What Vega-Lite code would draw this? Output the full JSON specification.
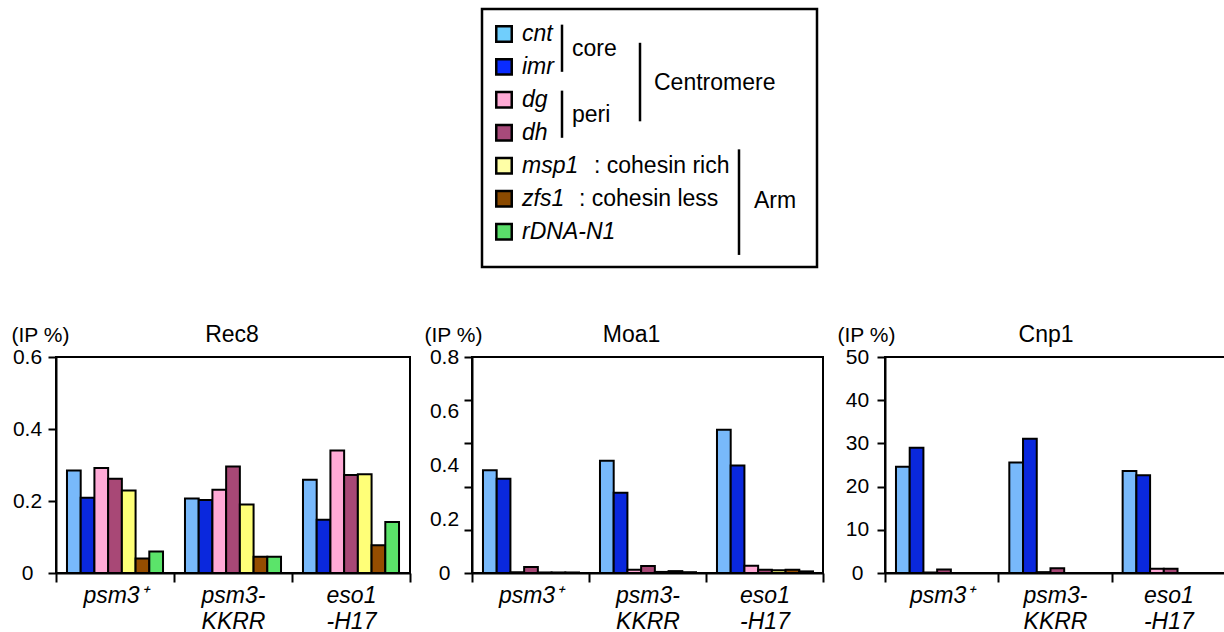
{
  "$schema": "https://vega.github.io/schema/vega-lite/v6.json",
  "padding": {"left": 10, "top": 7, "right": 0, "bottom": 0},
  "background": "white",
  "config": {
    "font": "Liberation Sans",
    "view": {"stroke": "black", "strokeWidth": 2},
    "axis": {"domainColor": "black", "tickColor": "black", "labelColor": "black", "titleColor": "black", "labelFont": "Liberation Sans", "titleFont": "Liberation Sans", "grid": false},
    "title": {"font": "Liberation Sans", "color": "black", "fontWeight": "normal"}
  },
  "resolve": {"scale": {"color": "independent"}},
  "datasets": {
    "genes": [
      {"gene": "cnt"}, {"gene": "imr"}, {"gene": "dg"}, {"gene": "dh"},
      {"gene": "msp1", "note": ": cohesin rich"}, {"gene": "zfs1", "note": ": cohesin less"}, {"gene": "rDNA-N1"}
    ],
    "groups": [
      {"label": "core", "from": "cnt", "to": "imr", "anchor": "cnt", "level": "sub"},
      {"label": "peri", "from": "dg", "to": "dh", "anchor": "dg", "level": "sub"},
      {"label": "Centromere", "from": "cnt", "to": "dh", "anchor": "imr", "level": "region"},
      {"label": "Arm", "from": "msp1", "to": "rDNA-N1", "anchor": "zfs1", "level": "arm"}
    ],
    "bars": [
      {"protein": "Rec8", "strain": "psm3+", "gene": "cnt", "value": 0.285},
      {"protein": "Rec8", "strain": "psm3+", "gene": "imr", "value": 0.209},
      {"protein": "Rec8", "strain": "psm3+", "gene": "dg", "value": 0.292},
      {"protein": "Rec8", "strain": "psm3+", "gene": "dh", "value": 0.262},
      {"protein": "Rec8", "strain": "psm3+", "gene": "msp1", "value": 0.229},
      {"protein": "Rec8", "strain": "psm3+", "gene": "zfs1", "value": 0.040},
      {"protein": "Rec8", "strain": "psm3+", "gene": "rDNA-N1", "value": 0.060},
      {"protein": "Rec8", "strain": "psm3-KKRR", "gene": "cnt", "value": 0.207},
      {"protein": "Rec8", "strain": "psm3-KKRR", "gene": "imr", "value": 0.203},
      {"protein": "Rec8", "strain": "psm3-KKRR", "gene": "dg", "value": 0.231},
      {"protein": "Rec8", "strain": "psm3-KKRR", "gene": "dh", "value": 0.296},
      {"protein": "Rec8", "strain": "psm3-KKRR", "gene": "msp1", "value": 0.190},
      {"protein": "Rec8", "strain": "psm3-KKRR", "gene": "zfs1", "value": 0.045},
      {"protein": "Rec8", "strain": "psm3-KKRR", "gene": "rDNA-N1", "value": 0.045},
      {"protein": "Rec8", "strain": "eso1-H17", "gene": "cnt", "value": 0.259},
      {"protein": "Rec8", "strain": "eso1-H17", "gene": "imr", "value": 0.148},
      {"protein": "Rec8", "strain": "eso1-H17", "gene": "dg", "value": 0.340},
      {"protein": "Rec8", "strain": "eso1-H17", "gene": "dh", "value": 0.272},
      {"protein": "Rec8", "strain": "eso1-H17", "gene": "msp1", "value": 0.274},
      {"protein": "Rec8", "strain": "eso1-H17", "gene": "zfs1", "value": 0.077},
      {"protein": "Rec8", "strain": "eso1-H17", "gene": "rDNA-N1", "value": 0.142},
      {"protein": "Moa1", "strain": "psm3+", "gene": "cnt", "value": 0.381},
      {"protein": "Moa1", "strain": "psm3+", "gene": "imr", "value": 0.349},
      {"protein": "Moa1", "strain": "psm3+", "gene": "dg", "value": 0.003},
      {"protein": "Moa1", "strain": "psm3+", "gene": "dh", "value": 0.022},
      {"protein": "Moa1", "strain": "psm3+", "gene": "msp1", "value": 0.002},
      {"protein": "Moa1", "strain": "psm3+", "gene": "zfs1", "value": 0.002},
      {"protein": "Moa1", "strain": "psm3+", "gene": "rDNA-N1", "value": 0.002},
      {"protein": "Moa1", "strain": "psm3-KKRR", "gene": "cnt", "value": 0.416},
      {"protein": "Moa1", "strain": "psm3-KKRR", "gene": "imr", "value": 0.297},
      {"protein": "Moa1", "strain": "psm3-KKRR", "gene": "dg", "value": 0.012},
      {"protein": "Moa1", "strain": "psm3-KKRR", "gene": "dh", "value": 0.026},
      {"protein": "Moa1", "strain": "psm3-KKRR", "gene": "msp1", "value": 0.004},
      {"protein": "Moa1", "strain": "psm3-KKRR", "gene": "zfs1", "value": 0.007},
      {"protein": "Moa1", "strain": "psm3-KKRR", "gene": "rDNA-N1", "value": 0.003},
      {"protein": "Moa1", "strain": "eso1-H17", "gene": "cnt", "value": 0.531},
      {"protein": "Moa1", "strain": "eso1-H17", "gene": "imr", "value": 0.398},
      {"protein": "Moa1", "strain": "eso1-H17", "gene": "dg", "value": 0.027},
      {"protein": "Moa1", "strain": "eso1-H17", "gene": "dh", "value": 0.012},
      {"protein": "Moa1", "strain": "eso1-H17", "gene": "msp1", "value": 0.010},
      {"protein": "Moa1", "strain": "eso1-H17", "gene": "zfs1", "value": 0.012},
      {"protein": "Moa1", "strain": "eso1-H17", "gene": "rDNA-N1", "value": 0.006},
      {"protein": "Cnp1", "strain": "psm3+", "gene": "cnt", "value": 24.6},
      {"protein": "Cnp1", "strain": "psm3+", "gene": "imr", "value": 29.0},
      {"protein": "Cnp1", "strain": "psm3+", "gene": "dg", "value": 0.1},
      {"protein": "Cnp1", "strain": "psm3+", "gene": "dh", "value": 0.8},
      {"protein": "Cnp1", "strain": "psm3+", "gene": "msp1", "value": 0},
      {"protein": "Cnp1", "strain": "psm3+", "gene": "zfs1", "value": 0},
      {"protein": "Cnp1", "strain": "psm3+", "gene": "rDNA-N1", "value": 0},
      {"protein": "Cnp1", "strain": "psm3-KKRR", "gene": "cnt", "value": 25.6},
      {"protein": "Cnp1", "strain": "psm3-KKRR", "gene": "imr", "value": 31.1},
      {"protein": "Cnp1", "strain": "psm3-KKRR", "gene": "dg", "value": 0.2},
      {"protein": "Cnp1", "strain": "psm3-KKRR", "gene": "dh", "value": 1.1},
      {"protein": "Cnp1", "strain": "psm3-KKRR", "gene": "msp1", "value": 0},
      {"protein": "Cnp1", "strain": "psm3-KKRR", "gene": "zfs1", "value": 0},
      {"protein": "Cnp1", "strain": "psm3-KKRR", "gene": "rDNA-N1", "value": 0},
      {"protein": "Cnp1", "strain": "eso1-H17", "gene": "cnt", "value": 23.6},
      {"protein": "Cnp1", "strain": "eso1-H17", "gene": "imr", "value": 22.6},
      {"protein": "Cnp1", "strain": "eso1-H17", "gene": "dg", "value": 1.0},
      {"protein": "Cnp1", "strain": "eso1-H17", "gene": "dh", "value": 1.0},
      {"protein": "Cnp1", "strain": "eso1-H17", "gene": "msp1", "value": 0},
      {"protein": "Cnp1", "strain": "eso1-H17", "gene": "zfs1", "value": 0},
      {"protein": "Cnp1", "strain": "eso1-H17", "gene": "rDNA-N1", "value": 0}
    ]
  },
  "vconcat": [
    {
      "hconcat": [
        {
          "width": 424, "height": 10,
          "view": {"stroke": null},
          "data": {"values": []},
          "mark": "text",
          "encoding": {}
        },
        {
          "width": 335, "height": 258,
          "view": {"stroke": "black", "strokeWidth": 2.5},
          "layer": [
            {
              "data": {"name": "genes"},
              "mark": {"type": "square", "size": 240, "stroke": "black", "strokeWidth": 2.5, "opacity": 1, "filled": true},
              "encoding": {
                "x": {"datum": 22, "type": "quantitative", "scale": {"domain": [0, 335], "nice": false, "zero": false}, "axis": null},
                "y": {"field": "gene", "type": "nominal", "scale": {"type": "band", "domain": ["cnt", "imr", "dg", "dh", "msp1", "zfs1", "rDNA-N1"], "paddingInner": 0, "paddingOuter": 0.41, "align": 0.31}, "axis": null},
                "color": {"field": "gene", "type": "nominal", "scale": {"domain": ["cnt", "imr", "dg", "dh", "msp1", "zfs1", "rDNA-N1"], "range": ["#70cefc", "#0a2cff", "#ffaad5", "#a84a7a", "#ffffa6", "#8b4a00", "#5ade6a"]}, "legend": null}
              }
            },
            {
              "data": {"name": "genes"},
              "mark": {"type": "text", "align": "left", "baseline": "middle", "fontSize": 23, "fontStyle": "italic", "color": "black"},
              "encoding": {
                "x": {"datum": 40, "type": "quantitative", "scale": {"domain": [0, 335], "nice": false, "zero": false}, "axis": null},
                "y": {"field": "gene", "type": "nominal", "scale": {"type": "band", "domain": ["cnt", "imr", "dg", "dh", "msp1", "zfs1", "rDNA-N1"], "paddingInner": 0, "paddingOuter": 0.41, "align": 0.31}, "axis": null},
                "text": {"field": "gene"}
              }
            },
            {
              "data": {"name": "genes"},
              "transform": [{"filter": "datum.gene == 'msp1'"}],
              "mark": {"type": "text", "align": "left", "baseline": "middle", "fontSize": 23, "color": "black"},
              "encoding": {
                "x": {"datum": 112, "type": "quantitative", "scale": {"domain": [0, 335], "nice": false, "zero": false}, "axis": null},
                "y": {"field": "gene", "type": "nominal", "scale": {"type": "band", "domain": ["cnt", "imr", "dg", "dh", "msp1", "zfs1", "rDNA-N1"], "paddingInner": 0, "paddingOuter": 0.41, "align": 0.31}, "axis": null},
                "text": {"field": "note"}
              }
            },
            {
              "data": {"name": "genes"},
              "transform": [{"filter": "datum.gene == 'zfs1'"}],
              "mark": {"type": "text", "align": "left", "baseline": "middle", "fontSize": 23, "color": "black"},
              "encoding": {
                "x": {"datum": 97, "type": "quantitative", "scale": {"domain": [0, 335], "nice": false, "zero": false}, "axis": null},
                "y": {"field": "gene", "type": "nominal", "scale": {"type": "band", "domain": ["cnt", "imr", "dg", "dh", "msp1", "zfs1", "rDNA-N1"], "paddingInner": 0, "paddingOuter": 0.41, "align": 0.31}, "axis": null},
                "text": {"field": "note"}
              }
            },
            {
              "data": {"name": "groups"},
              "transform": [{"filter": "datum.level == 'sub'"}],
              "mark": {"type": "rule", "strokeWidth": 2.5, "color": "black"},
              "encoding": {
                "x": {"datum": 80, "type": "quantitative", "scale": {"domain": [0, 335], "nice": false, "zero": false}, "axis": null},
                "y": {"field": "from", "type": "nominal", "bandPosition": 0.22, "scale": {"type": "band", "domain": ["cnt", "imr", "dg", "dh", "msp1", "zfs1", "rDNA-N1"], "paddingInner": 0, "paddingOuter": 0.41, "align": 0.31}, "axis": null},
                "y2": {"field": "to", "bandPosition": 0.65}
              }
            },
            {
              "data": {"name": "groups"},
              "transform": [{"filter": "datum.level == 'region'"}],
              "mark": {"type": "rule", "strokeWidth": 2.5, "color": "black"},
              "encoding": {
                "x": {"datum": 158, "type": "quantitative", "scale": {"domain": [0, 335], "nice": false, "zero": false}, "axis": null},
                "y": {"field": "from", "type": "nominal", "bandPosition": 0.77, "scale": {"type": "band", "domain": ["cnt", "imr", "dg", "dh", "msp1", "zfs1", "rDNA-N1"], "paddingInner": 0, "paddingOuter": 0.41, "align": 0.31}, "axis": null},
                "y2": {"field": "to", "bandPosition": 0.15}
              }
            },
            {
              "data": {"name": "groups"},
              "transform": [{"filter": "datum.level == 'arm'"}],
              "mark": {"type": "rule", "strokeWidth": 2.5, "color": "black"},
              "encoding": {
                "x": {"datum": 257, "type": "quantitative", "scale": {"domain": [0, 335], "nice": false, "zero": false}, "axis": null},
                "y": {"field": "from", "type": "nominal", "bandPosition": 0, "scale": {"type": "band", "domain": ["cnt", "imr", "dg", "dh", "msp1", "zfs1", "rDNA-N1"], "paddingInner": 0, "paddingOuter": 0.41, "align": 0.31}, "axis": null},
                "y2": {"field": "to", "bandPosition": 1.2}
              }
            },
            {
              "data": {"name": "groups"},
              "transform": [{"filter": "datum.level == 'sub'"}],
              "mark": {"type": "text", "align": "left", "baseline": "middle", "fontSize": 23, "color": "black"},
              "encoding": {
                "x": {"datum": 90, "type": "quantitative", "scale": {"domain": [0, 335], "nice": false, "zero": false}, "axis": null},
                "y": {"field": "anchor", "type": "nominal", "bandPosition": 0.97, "scale": {"type": "band", "domain": ["cnt", "imr", "dg", "dh", "msp1", "zfs1", "rDNA-N1"], "paddingInner": 0, "paddingOuter": 0.41, "align": 0.31}, "axis": null},
                "text": {"field": "label"}
              }
            },
            {
              "data": {"name": "groups"},
              "transform": [{"filter": "datum.level == 'region'"}],
              "mark": {"type": "text", "align": "left", "baseline": "middle", "fontSize": 23, "color": "black"},
              "encoding": {
                "x": {"datum": 172, "type": "quantitative", "scale": {"domain": [0, 335], "nice": false, "zero": false}, "axis": null},
                "y": {"field": "anchor", "type": "nominal", "bandPosition": 1, "scale": {"type": "band", "domain": ["cnt", "imr", "dg", "dh", "msp1", "zfs1", "rDNA-N1"], "paddingInner": 0, "paddingOuter": 0.41, "align": 0.31}, "axis": null},
                "text": {"field": "label"}
              }
            },
            {
              "data": {"name": "groups"},
              "transform": [{"filter": "datum.level == 'arm'"}],
              "mark": {"type": "text", "align": "left", "baseline": "middle", "fontSize": 23, "color": "black"},
              "encoding": {
                "x": {"datum": 272, "type": "quantitative", "scale": {"domain": [0, 335], "nice": false, "zero": false}, "axis": null},
                "y": {"field": "anchor", "type": "nominal", "bandPosition": 0.57, "scale": {"type": "band", "domain": ["cnt", "imr", "dg", "dh", "msp1", "zfs1", "rDNA-N1"], "paddingInner": 0, "paddingOuter": 0.41, "align": 0.31}, "axis": null},
                "text": {"field": "label"}
              }
            }
          ]
        }
      ],
      "spacing": 0
    },
    {
      "hconcat": [
        {
          "width": 354, "height": 216,
          "data": {"name": "bars"},
          "transform": [{"filter": "datum.protein == 'Rec8'"}],
          "title": {"text": "Rec8", "anchor": "middle", "frame": "group", "baseline": "alphabetic", "offset": -41, "fontSize": 23, "dx": -1},
          "mark": {"type": "bar", "stroke": "black", "strokeWidth": 2},
          "encoding": {
            "x": {"field": "strain", "type": "nominal", "sort": ["psm3+", "psm3-KKRR", "eso1-H17"], "scale": {"paddingInner": 0, "paddingOuter": 0},
              "axis": {"title": null, "tickBand": "extent", "tickSize": 9, "tickWidth": 2, "domainWidth": 2, "labelAngle": 0, "labelFontSize": 23, "labelFontStyle": "italic", "labelBaseline": "alphabetic", "labelPadding": 20, "labelLineHeight": 26,
                "labelExpr": "datum.value == 'psm3+' ? 'psm3⁺' : datum.value == 'psm3-KKRR' ? ['psm3-', 'KKRR'] : datum.value == 'eso1-H17' ? ['eso1', '-H17'] : ''"}},
            "xOffset": {"field": "gene", "type": "nominal", "sort": ["cnt", "imr", "dg", "dh", "msp1", "zfs1", "rDNA-N1"], "scale": {"paddingInner": 0, "paddingOuter": 0.8}},
            "y": {"field": "value", "type": "quantitative", "scale": {"domain": [0, 0.6], "nice": false},
              "axis": {"values": [0, 0.2, 0.4, 0.6], "labelExpr": "datum.value == 0 ? '0' : format(datum.value, '.1f')", "title": "(IP %)", "titleAngle": 0, "titleX": -45, "titleY": -16, "titleAlign": "left", "titleBaseline": "alphabetic", "titleFontSize": 21, "titleFontWeight": "normal", "labelAlign": "center", "labelPadding": 21, "labelFontSize": 21, "tickSize": 8, "tickWidth": 2, "domainWidth": 2}},
            "color": {"field": "gene", "type": "nominal", "scale": {"domain": ["cnt", "imr", "dg", "dh", "msp1", "zfs1", "rDNA-N1"], "range": ["#78b9fb", "#0a28dd", "#ffaad6", "#a84876", "#ffff78", "#954d00", "#5be46a"]}, "legend": null}
          }
        },
        {
          "width": 351, "height": 216,
          "data": {"name": "bars"},
          "transform": [{"filter": "datum.protein == 'Moa1'"}],
          "title": {"text": "Moa1", "anchor": "middle", "frame": "group", "baseline": "alphabetic", "offset": -41, "fontSize": 23, "dx": -16},
          "mark": {"type": "bar", "stroke": "black", "strokeWidth": 2},
          "encoding": {
            "x": {"field": "strain", "type": "nominal", "sort": ["psm3+", "psm3-KKRR", "eso1-H17"], "scale": {"paddingInner": 0, "paddingOuter": 0},
              "axis": {"title": null, "tickBand": "extent", "tickSize": 9, "tickWidth": 2, "domainWidth": 2, "labelAngle": 0, "labelFontSize": 23, "labelFontStyle": "italic", "labelBaseline": "alphabetic", "labelPadding": 20, "labelLineHeight": 26,
                "labelExpr": "datum.value == 'psm3+' ? 'psm3⁺' : datum.value == 'psm3-KKRR' ? ['psm3-', 'KKRR'] : datum.value == 'eso1-H17' ? ['eso1', '-H17'] : ''"}},
            "xOffset": {"field": "gene", "type": "nominal", "sort": ["cnt", "imr", "dg", "dh", "msp1", "zfs1", "rDNA-N1"], "scale": {"paddingInner": 0, "paddingOuter": 0.8}},
            "y": {"field": "value", "type": "quantitative", "scale": {"domain": [0, 0.8], "nice": false},
              "axis": {"values": [0, 0.16, 0.2, 0.32, 0.4, 0.48, 0.6, 0.64, 0.8], "labelOverlap": false,
                "labelExpr": "indexof([0, 0.2, 0.4, 0.6, 0.8], datum.value) >= 0 ? (datum.value == 0 ? '0' : format(datum.value, '.1f')) : ''",
                "tickOpacity": {"condition": {"test": "indexof([0, 0.16, 0.32, 0.48, 0.64, 0.8], datum.value) >= 0", "value": 1}, "value": 0},
                "title": "(IP %)", "titleAngle": 0, "titleX": -48, "titleY": -16, "titleAlign": "left", "titleBaseline": "alphabetic", "titleFontSize": 21, "titleFontWeight": "normal", "labelAlign": "center", "labelPadding": 20, "labelFontSize": 21, "tickSize": 8, "tickWidth": 2, "domainWidth": 2}},
            "color": {"field": "gene", "type": "nominal", "scale": {"domain": ["cnt", "imr", "dg", "dh", "msp1", "zfs1", "rDNA-N1"], "range": ["#78b9fb", "#0a28dd", "#ffaad6", "#a84876", "#ffff78", "#954d00", "#5be46a"]}, "legend": null}
          }
        },
        {
          "width": 340, "height": 216,
          "data": {"name": "bars"},
          "transform": [{"filter": "datum.protein == 'Cnp1'"}],
          "title": {"text": "Cnp1", "anchor": "middle", "frame": "group", "baseline": "alphabetic", "offset": -41, "fontSize": 23, "dx": -9},
          "mark": {"type": "bar", "stroke": "black", "strokeWidth": 2},
          "encoding": {
            "x": {"field": "strain", "type": "nominal", "sort": ["psm3+", "psm3-KKRR", "eso1-H17"], "scale": {"paddingInner": 0, "paddingOuter": 0},
              "axis": {"title": null, "tickBand": "extent", "tickSize": 9, "tickWidth": 2, "domainWidth": 2, "labelAngle": 0, "labelFontSize": 23, "labelFontStyle": "italic", "labelBaseline": "alphabetic", "labelPadding": 20, "labelLineHeight": 26,
                "labelExpr": "datum.value == 'psm3+' ? 'psm3⁺' : datum.value == 'psm3-KKRR' ? ['psm3-', 'KKRR'] : datum.value == 'eso1-H17' ? ['eso1', '-H17'] : ''"}},
            "xOffset": {"field": "gene", "type": "nominal", "sort": ["cnt", "imr", "dg", "dh", "msp1", "zfs1", "rDNA-N1"], "scale": {"paddingInner": 0, "paddingOuter": 0.8}},
            "y": {"field": "value", "type": "quantitative", "scale": {"domain": [0, 50], "nice": false},
              "axis": {"values": [0, 10, 20, 30, 40, 50], "title": "(IP %)", "titleAngle": 0, "titleX": -48, "titleY": -16, "titleAlign": "left", "titleBaseline": "alphabetic", "titleFontSize": 21, "titleFontWeight": "normal", "labelAlign": "center", "labelPadding": 20, "labelFontSize": 21, "tickSize": 8, "tickWidth": 2, "domainWidth": 2}},
            "color": {"field": "gene", "type": "nominal", "scale": {"domain": ["cnt", "imr", "dg", "dh", "msp1", "zfs1", "rDNA-N1"], "range": ["#78b9fb", "#0a28dd", "#ffaad6", "#a84876", "#ffff78", "#954d00", "#5be46a"]}, "legend": null}
          }
        }
      ],
      "spacing": 11
    }
  ],
  "spacing": 54
}
